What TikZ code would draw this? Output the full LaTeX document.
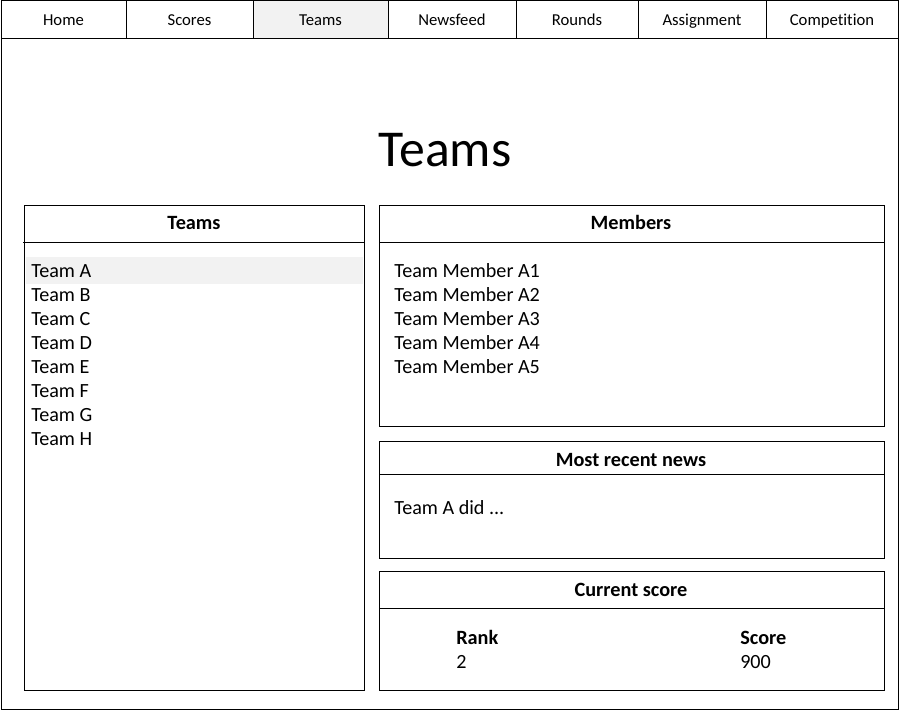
\documentclass[tikz,border=0pt]{standalone}
\usepackage{fontspec}
\setmainfont{Carlito}[Ligatures=NoCommon]
\usetikzlibrary{positioning}
\definecolor{selgray}{HTML}{F2F2F2}
\tikzset{
  frame/.style={draw=black, line width=0.75pt},
  navtext/.style={inner sep=0pt, anchor=base, font=\fontsize{12.5}{15}\selectfont},
  headtext/.style={inner sep=0pt, anchor=base, font=\fontsize{15.2}{18}\selectfont\bfseries},
  itemtext/.style={inner sep=0pt, anchor=base west, font=\fontsize{15.1}{18}\selectfont},
}
\begin{document}
\begin{tikzpicture}[x=0.75pt, y=-0.75pt]
        \useasboundingbox (0,0) rectangle (899,710);
        % page
        \draw[frame] (1,1) rectangle (898,709);
        % menu bar
        \fill[selgray] (253,1) rectangle (388,39);
        \draw[frame] (1,39) -- (898,39);
        \foreach \a/\b/\t in {1/126/Home, 126/253/Scores, 253/388/Teams,
          388/516/Newsfeed, 516/638/Rounds, 638/766/Assignment, 766/898/Competition}
        {
          \draw[frame] (\b,1) -- (\b,39);
          \node[navtext] (nav\t) at ({(\a+\b)/2},26) {\t};
        }
        % title
        \node[inner sep=0pt, anchor=base, font=\fontsize{38.8}{46}\selectfont] (title) at (445,166.5) {Teams};
        % team list
        \draw[frame] (24,205) rectangle (364,690);
        \draw[frame] (23,242) -- (364,242);
        \node[headtext] (teamshead) at (194,229) {Teams};
        \fill[selgray] (26,257) rectangle (363,284);
        \foreach \t [count=\i] in {A,B,C,D,E,F,G,H}
          \node[itemtext] (team\t) at (31,253.5+24*\i) {Team \t};
        % members
        \draw[frame] (379,205) rectangle (884,426);
        \draw[frame] (379,242) -- (884,242);
        \node[headtext] (memberhead) at (631,229) {Members};
        \foreach \i in {1,...,5}
          \node[itemtext] (member\i) at (394,253.5+24*\i) {Team Member A\i};
        % news
        \draw[frame] (379,441) rectangle (884,558);
        \draw[frame] (379,474) -- (884,474);
        \node[headtext] (newshead) at (631,466) {Most recent news};
        \node[itemtext] (news) at (394,514.5) {Team A did ...};
        % score
        \draw[frame] (379,571) rectangle (884,690);
        \draw[frame] (379,608) -- (884,608);
        \node[headtext] (scorehead) at (631,596) {Current score};
        \node[headtext, anchor=base west] (rankhead) at (456,644) {Rank};
        \node[itemtext] (rank) at (456,668.5) {2};
        \node[headtext, anchor=base west] (pointshead) at (740,644) {Score};
        \node[itemtext] (points) at (740,668.5) {900};
      \end{tikzpicture}
\end{document}
